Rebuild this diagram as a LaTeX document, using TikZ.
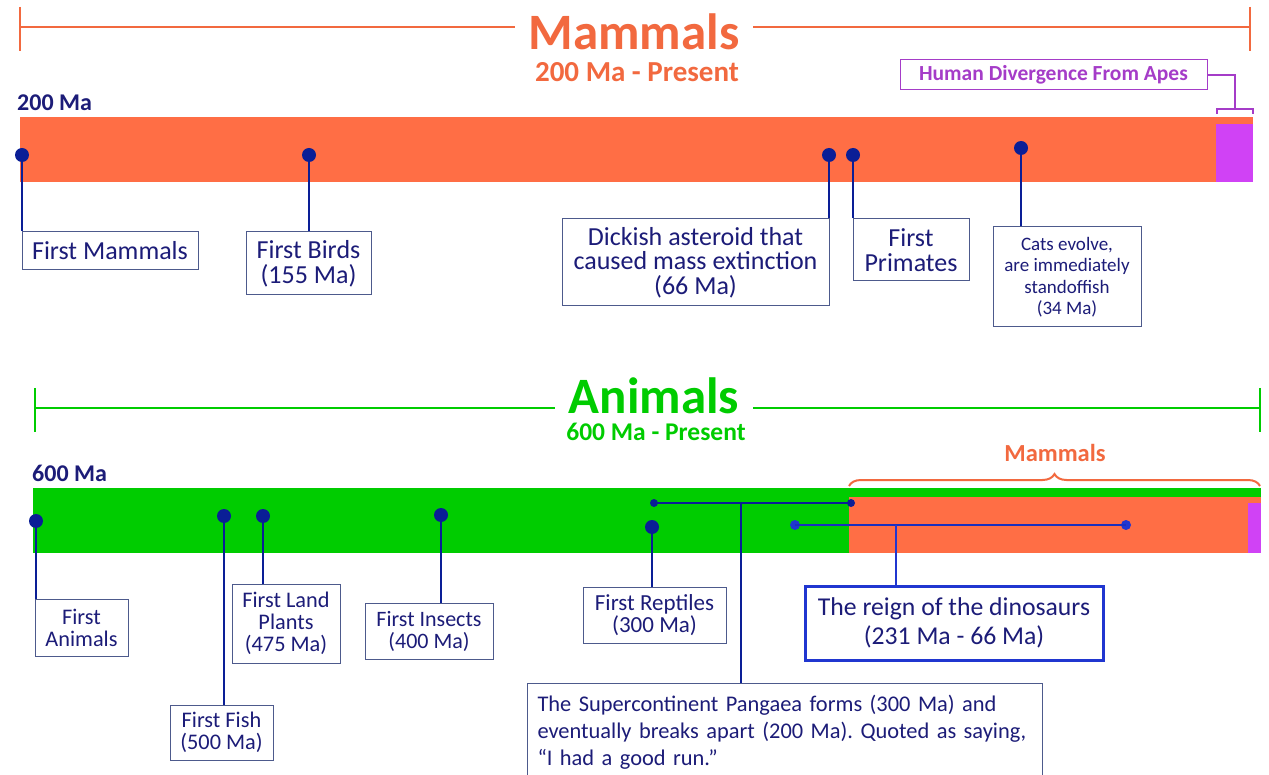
\documentclass[tikz,border=0pt]{standalone}
\usepackage{fontspec}
\setmainfont{Carlito}
\usetikzlibrary{decorations.pathreplacing}
\definecolor{mamorange}{HTML}{FF6E45}
\definecolor{titleorange}{HTML}{F2693F}
\definecolor{anigreen}{HTML}{00CC00}
\definecolor{navy}{HTML}{1C1C78}
\definecolor{dotblue}{HTML}{0A1E96}
\definecolor{boxline}{HTML}{4D5A8C}
\definecolor{humpurple}{HTML}{D042F5}
\definecolor{humtext}{HTML}{A53CC8}
\definecolor{dinoblue}{HTML}{2036D0}
\newcommand{\fs}[2]{\fontsize{#1}{#2}\selectfont}
\tikzset{
  event/.style={draw=boxline, line width=1pt, fill=white, text=navy, align=center,
    font=\fs{26}{25}, inner sep=0pt},
  dot/.style={circle, fill=dotblue, inner sep=0pt, minimum size=14pt},
  smalldot/.style={circle, fill=dotblue, inner sep=0pt, minimum size=8pt},
  dinodot/.style={circle, fill=dinoblue, inner sep=0pt, minimum size=10pt},
  link/.style={dotblue, line width=2pt},
  bigtitle/.style={fill=white, inner xsep=14pt, inner ysep=0pt, text height=34pt, text depth=0pt},
  subtitle/.style={inner sep=0pt, text depth=0pt},
  startlabel/.style={font=\bfseries\fs{24}{24}, text=navy, anchor=base west, inner sep=0pt}
}
\begin{document}
\frenchspacing
\begin{tikzpicture}[x=1pt,y=-1pt]
  \useasboundingbox[fill=white] (0,0) rectangle (1269,775);
  \clip (0,0) rectangle (1269,775);
  %% Mammals scale
  \draw[titleorange, line width=2pt] (20,27) -- (1250,27);
  \draw[titleorange, line width=2pt] (20,7) -- (20,51);
  \draw[titleorange, line width=2pt] (1250,7) -- (1250,51);
  \node[bigtitle, text=titleorange, font=\bfseries\fs{51}{51}] (mamTitle) at (634,32.5) {Mammals};
  \node[subtitle, text height=19pt, text=titleorange, font=\bfseries\fs{29}{29}] (mamSpan) at (637,72) {200 Ma - Present};
  \node[startlabel] (mamStart) at (17,111) {200 Ma};
  %% Mammals bar
  \fill[mamorange] (20,117) rectangle (1253,182);
  \fill[humpurple] (1216,124) rectangle (1253,182);
  \node[draw=humtext, line width=1pt, text=humtext, font=\bfseries\fs{21.5}{21.5},
    minimum width=307pt, minimum height=30pt, inner sep=0pt] (hum) at (1053.5,75) {Human Divergence From Apes};
  \coordinate (humTop) at (1235,109);
  \draw[humtext, line width=2pt] (1217,114) -- (1217,109) -- (1253,109) -- (1253,114);
  \draw[humtext, line width=2pt] (humTop) |- (hum.east);
  %% Mammals events
  \node[event, minimum width=176pt, minimum height=38pt] (fMam) at (110,251) {First Mammals};
  \node[event, minimum width=125pt, minimum height=63pt] (fBird) at (308.5,263.5) {First Birds\\(155 Ma)};
  \node[event, minimum width=267pt, minimum height=87pt, font=\fs{26}{24.5}] (fAst) at (695.5,262.5) {Dickish asteroid that\\caused mass extinction\\(66 Ma)};
  \node[event, minimum width=116pt, minimum height=62pt] (fPri) at (911,250) {First\\Primates};
  \node[event, minimum width=148pt, minimum height=100pt, font=\fs{19}{21.5}] (fCat) at (1067,277) {Cats evolve,\\are immediately\\standoffish\\(34 Ma)};
  \node[dot] (dMam) at (22,155) {};
  \node[dot] (dBird) at (309,155) {};
  \node[dot] (dAst) at (829,155) {};
  \node[dot] (dPri) at (853,155) {};
  \node[dot] (dCat) at (1021,148) {};
  \draw[link] (dMam.center) -- (dMam.center |- fMam.north);
  \draw[link] (dBird.center) -- (dBird.center |- fBird.north);
  \draw[link] (dAst.center) -- (dAst.center |- fAst.north);
  \draw[link] (dPri.center) -- (dPri.center |- fPri.north);
  \draw[link] (dCat.center) -- (dCat.center |- fCat.north);
  %% Animals scale
  \draw[anigreen, line width=2pt] (35,408) -- (1260,408);
  \draw[anigreen, line width=2pt] (35,388) -- (35,432);
  \draw[anigreen, line width=2pt] (1260,388) -- (1260,432);
  \node[bigtitle, text=anigreen, font=\bfseries\fs{51}{51}] (aniTitle) at (654,396.5) {Animals};
  \node[subtitle, text height=16.5pt, text=anigreen, font=\bfseries\fs{25.5}{25.5}] (aniSpan) at (656,432) {600 Ma - Present};
  \node[startlabel] (aniStart) at (32,481) {600 Ma};
  %% Animals bar
  \fill[anigreen] (33,488) rectangle (1261,553);
  \fill[mamorange] (849,497) rectangle (1261,553);
  \fill[humpurple] (1248,503) rectangle (1261,553);
  \draw[titleorange, line width=2pt, decorate, decoration={brace, amplitude=12pt}] (849,486) -- (1260,486);
  \node[text=titleorange, font=\bfseries\fs{24.5}{24.5}] (mamBrace) at (1055,453) {Mammals};
  %% Animals events
  \node[event, minimum width=93pt, minimum height=57pt, font=\fs{22.3}{22}] (fAni) at (81.5,627.5) {First\\Animals};
  \node[event, minimum width=103pt, minimum height=55pt, font=\fs{22.3}{22}] (fFish) at (221.5,732.5) {First Fish\\(500 Ma)};
  \node[event, minimum width=108pt, minimum height=79pt, font=\fs{22.3}{22}] (fPla) at (286,623.5) {First Land\\Plants\\(475 Ma)};
  \node[event, minimum width=128pt, minimum height=56pt, font=\fs{22}{22}] (fIns) at (429,631) {First Insects\\(400 Ma)};
  \node[event, minimum width=143pt, minimum height=56pt, font=\fs{23}{22}] (fRep) at (654.5,615) {First Reptiles\\(300 Ma)};
  \node[event, draw=dinoblue, line width=3pt, minimum width=298pt, minimum height=74pt, font=\fs{25.7}{29}] (dino) at (954,623) {The reign of the dinosaurs\\(231 Ma - 66 Ma)};
  \node[event, anchor=north west, align=left, text width=495pt, inner xsep=10pt, inner ysep=0pt,
    minimum height=98pt, font=\fs{22.4}{27}] (pan) at (527,683) {The Supercontinent Pangaea forms (300 Ma) and\\eventually breaks apart (200 Ma). Quoted as saying,\\``I had a good run.''};
  \node[dot] (dAni) at (36,521) {};
  \node[dot] (dFish) at (224,516) {};
  \node[dot] (dPla) at (263,516) {};
  \node[dot] (dIns) at (441,515) {};
  \node[dot] (dRep) at (652,527) {};
  \draw[link] (dAni.center) -- (dAni.center |- fAni.north);
  \draw[link] (dFish.center) -- (dFish.center |- fFish.north);
  \draw[link] (dPla.center) -- (dPla.center |- fPla.north);
  \draw[link] (dIns.center) -- (dIns.center |- fIns.north);
  \draw[link] (dRep.center) -- (dRep.center |- fRep.north);
  %% Pangaea and dinosaurs spans
  \node[smalldot] (panA) at (654,503) {};
  \node[smalldot] (panB) at (851,503) {};
  \coordinate (panMid) at (741,503);
  \draw[link] (panA.center) -- (panB.center);
  \draw[link] (panMid) -- (panMid |- pan.north);
  \node[dinodot] (dinoA) at (795,525) {};
  \node[dinodot] (dinoB) at (1126,525) {};
  \coordinate (dinoMid) at (896,525);
  \draw[link, color=dinoblue!70!dotblue] (dinoA.center) -- (dinoB.center);
  \draw[link, color=dinoblue] (dinoMid) -- (dinoMid |- dino.north);
\end{tikzpicture}
\end{document}
